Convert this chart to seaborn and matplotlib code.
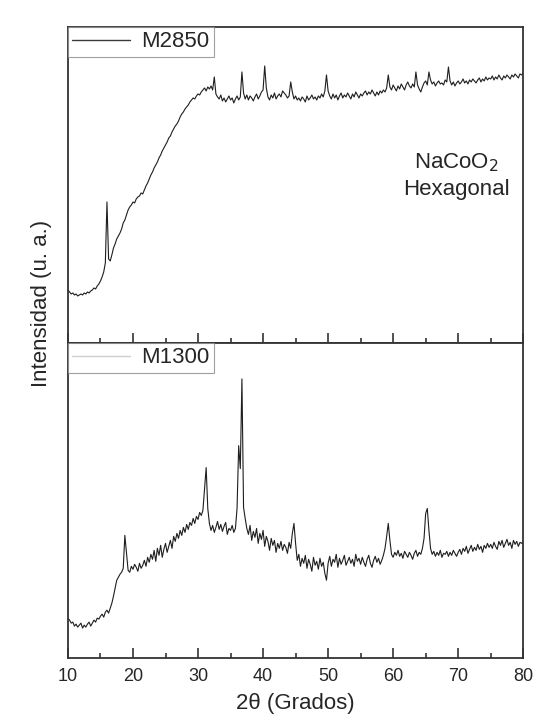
import numpy as np
import seaborn as sns
import matplotlib.pyplot as plt
from matplotlib.lines import Line2D
from matplotlib.ticker import MultipleLocator

# 2-theta grid, 10 to 80 deg in 0.25 deg steps
two_theta = np.arange(10.0, 80.001, 0.25)

# M2850 intensity (a.u.), one row per 5 degrees
m2850 = [
    53, 51, 49, 50, 48, 49, 47, 48, 49, 48, 50, 49, 51, 50, 52, 53, 55, 54, 57, 59,
    62, 66, 71, 80, 141, 84, 82, 88, 95, 99, 104, 107, 110, 114, 120, 123, 128, 133, 136, 138,
    141, 140, 144, 146, 147, 150, 149, 153, 157, 160, 164, 168, 171, 175, 178, 181, 185, 188, 192, 195,
    198, 201, 205, 207, 211, 214, 217, 219, 222, 226, 229, 231, 234, 236, 238, 241, 243, 245, 244, 247,
    249, 248, 251, 253, 255, 252, 256, 254, 257, 253, 266, 249, 246, 244, 248, 242, 245, 241, 244, 247,
    243, 245, 240, 244, 247, 243, 246, 271, 250, 244, 248, 243, 247, 245, 242, 246, 249, 244, 247, 251,
    253, 277, 255, 246, 243, 248, 245, 250, 244, 247, 249, 246, 252, 250, 248, 245, 247, 261, 251, 244,
    247, 243, 245, 242, 246, 244, 241, 247, 243, 245, 248, 244, 246, 243, 247, 245, 249, 246, 252, 268,
    252, 247, 244, 249, 245, 248, 243, 247, 250, 245, 248, 246, 250, 247, 244, 249, 246, 251, 248, 245,
    249, 247, 250, 252, 248, 251, 249, 253, 250, 247, 251, 248, 252, 250, 253, 251, 255, 268, 256, 253,
    258, 255, 252, 257, 254, 259, 256, 253, 258, 261, 257, 255, 259, 256, 271, 258, 254, 251, 256, 260,
    262, 258, 271, 263, 259, 261, 257, 260, 262, 259, 260, 258, 263, 261, 276, 262, 258, 261, 257, 260,
    262, 259, 261, 264, 260, 262, 259, 263, 261, 264, 262, 260, 263, 265, 261, 264, 262, 266, 263, 265,
    264, 267, 263, 266, 264, 268, 265, 263, 267, 265, 268, 266, 264, 268, 266, 269, 267, 265, 269, 268,
    270,
]

# M1300 intensity (a.u.)
m1300 = [
    40, 38, 35, 36, 32, 34, 31, 33, 35, 30, 33, 31, 34, 36, 32, 35, 38, 36, 40, 39,
    42, 44, 41, 46, 48, 45, 50, 55, 62, 70, 78, 81, 84, 86, 90, 123, 105, 88, 86, 92,
    89, 94, 91, 87, 95, 90, 93, 98, 92, 101, 96, 104, 99, 108, 97, 110, 103, 113, 101, 109,
    115, 106, 112, 118, 110, 122, 117, 125, 120, 128, 123, 131, 126, 134, 129, 136, 133, 140, 135, 142,
    139, 146, 143, 148, 170, 191, 150, 135, 128, 133, 126, 131, 137, 129, 134, 127, 132, 136, 124, 130,
    128, 133, 126, 130, 150, 213, 190, 280, 151, 140, 130, 124, 133, 118, 127, 121, 130, 115, 125, 119,
    128, 112, 122, 117, 108, 120, 113, 118, 106, 115, 110, 117, 108, 114, 111, 105, 116, 110, 125, 135,
    115, 98, 104, 92, 100, 95, 103, 90, 99, 94, 87, 101, 93, 97, 89, 100, 92, 96, 85, 78,
    95, 102, 92, 99, 96, 104, 91, 100, 94, 98, 103, 93, 97, 101, 95, 99, 92, 104, 97, 100,
    94, 101, 96, 92, 99, 103, 95, 91, 98, 102, 96, 100, 94, 98, 103, 110, 122, 135, 118, 104,
    101, 106, 103, 108, 102, 105, 100, 107, 104, 101, 106, 103, 99, 105, 108, 102, 106, 104, 110, 120,
    145, 150, 128, 110, 104, 107, 102, 106, 103, 108, 101, 105, 104, 107, 102, 106, 103, 108, 105, 102,
    106, 109, 104, 110, 107, 112, 105, 109, 113, 107, 111, 108, 114, 109, 112, 106, 113, 110, 115, 111,
    114, 110, 116, 112, 109, 117, 113, 118, 111, 115, 119, 113, 116, 110, 118, 114, 117, 112, 116, 115,
    117,
]

x_ticks = [10, 20, 30, 40, 50, 60, 70, 80]

sns.set_style("ticks")
plt.rcParams["font.family"] = ["Liberation Sans", "DejaVu Sans"]

fig = plt.figure(figsize=(5.35, 7.23), dpi=100)
ax_top = fig.add_axes([0.127, 0.5256, 0.851, 0.4371])
ax_bot = fig.add_axes([0.127, 0.0899, 0.851, 0.4357])

panels = [
    (ax_top, m2850, "M2850", "#3a3a3a"),
    (ax_bot, m1300, "M1300", "#cfcfcf"),
]
for ax, y, name, handle_color in panels:
    sns.lineplot(x=two_theta, y=y, ax=ax, color="#1e1e1e", lw=0.8,
                 estimator=None, sort=False)
    ax.set_xlim(10, 80)
    ax.set_ylim(0, 316)
    ax.set_yticks([])
    ax.set_ylabel("")
    ax.xaxis.set_major_locator(MultipleLocator(10))
    ax.xaxis.set_minor_locator(MultipleLocator(5))
    ax.tick_params(axis="x", which="major", direction="in", length=7,
                   width=1.2, color="#333333", labelsize=13, pad=7)
    ax.tick_params(axis="x", which="minor", direction="in", length=3.5,
                   width=1.2, color="#333333")
    for sp in ax.spines.values():
        sp.set_visible(True)
        sp.set_color("#333333")
        sp.set_linewidth(1.3)
    handle = Line2D([], [], color=handle_color, lw=1.0)
    leg = ax.legend([handle], [name], loc="upper left", borderaxespad=0,
                    fontsize=16, frameon=True, fancybox=False,
                    handlelength=2.6, handletextpad=0.5,
                    borderpad=0.2, edgecolor="#888888")
    leg.get_frame().set_linewidth(0.8)

ax_top.set_xticks(x_ticks)
ax_top.set_xticklabels([])
ax_bot.set_xticks(x_ticks)
ax_bot.set_xticklabels([str(t) for t in x_ticks])
ax_bot.set_xlabel("2θ (Grados)", fontsize=16, labelpad=6)
ax_top.set_xlabel("")

ax_top.text(0.853, 0.53, "NaCoO$_2$\nHexagonal", transform=ax_top.transAxes,
            ha="center", va="center", multialignment="center", fontsize=16,
            linespacing=1.3)

fig.text(0.078, 0.58, "Intensidad (u. a.)", rotation=90, ha="center",
         va="center", fontsize=16)

fig.savefig("out.png", dpi=100)
